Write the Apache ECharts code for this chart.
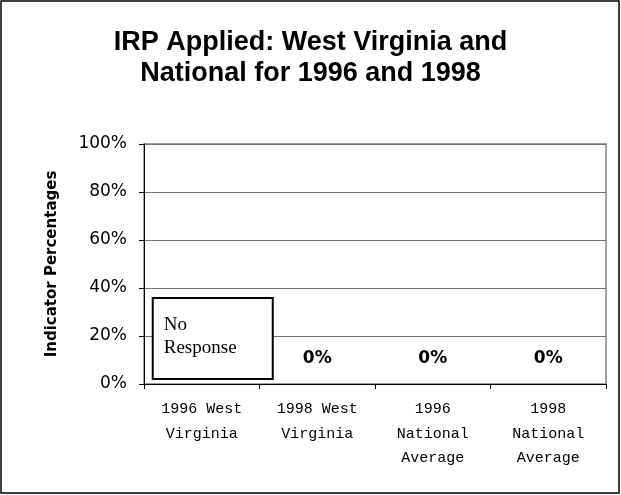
<!DOCTYPE html>
<html>
<head>
<meta charset="utf-8">
<script src="https://cdn.jsdelivr.net/npm/echarts@6/dist/echarts.min.js"></script>
<style>
  html, body { margin: 0; padding: 0; background: #fff; }
  #chart { width: 621px; height: 495px; }
</style>
</head>
<body>
<div id="chart"></div>
<script>
// categories and values
const categories = ['1996 West\nVirginia', '1998 West\nVirginia', '1996\nNational\nAverage', '1998\nNational\nAverage']
const values = [0, 0, 0, 0]
// first category had no response
const noResponse = [true, false, false, false]
const yTicks = [0, 20, 40, 60, 80, 100]

const myChart = echarts.init(document.getElementById('chart'))

const seriesData = values.map((v, i) => {
  if (!noResponse[i]) return v
  return {
    value: v,
    label: {
      show: true,
      position: 'top',
      distance: 6,
      offset: [-48, 0],
      formatter: 'No\nResponse',
      fontFamily: 'Liberation Serif',
      fontWeight: 'normal',
      fontSize: 19,
      lineHeight: 23,
      align: 'left',
      width: 98,
      padding: [15, 10, 18, 10],
      backgroundColor: '#fff',
      borderColor: '#000',
      borderWidth: 2,
      color: '#000'
    }
  }
})

const option = {
  animation: false,
  backgroundColor: '#fff',
  title: {
    text: 'IRP Applied: West Virginia and\nNational for 1996 and 1998',
    left: 'center',
    top: 22,
    textStyle: {
      fontFamily: 'Liberation Sans',
      fontSize: 27,
      fontWeight: 'bold',
      lineHeight: 31,
      color: '#000'
    }
  },
  graphic: [
    {
      type: 'rect',
      shape: { x: 1, y: 1, width: 618, height: 492 },
      style: { fill: 'none', stroke: '#000', lineWidth: 1.5 },
      silent: true
    }
  ],
  grid: {
    left: 144,
    right: 15,
    top: 144,
    bottom: 111,
    show: true,
    borderColor: '#808080',
    borderWidth: 1.5
  },
  xAxis: {
    type: 'category',
    data: categories,
    axisLine: { lineStyle: { color: '#000', width: 1 } },
    axisTick: { show: true, length: 5, lineStyle: { color: '#000' } },
    axisLabel: {
      fontFamily: 'Liberation Mono',
      fontSize: 15,
      lineHeight: 24.5,
      color: '#000',
      margin: 13,
      interval: 0
    }
  },
  yAxis: {
    type: 'value',
    min: 0,
    max: 100,
    interval: 20,
    name: 'Indicator Percentages',
    nameLocation: 'middle',
    nameRotate: 90,
    nameGap: 84,
    nameTextStyle: {
      fontFamily: 'DejaVu Sans',
      fontSize: 15,
      fontWeight: 'bold',
      color: '#000'
    },
    axisLine: { show: true, lineStyle: { color: '#000', width: 1 } },
    axisTick: { show: true, length: 5, lineStyle: { color: '#000' } },
    axisLabel: {
      formatter: v => yTicks.includes(v) ? v + '%' : '',
      fontFamily: 'DejaVu Sans',
      fontSize: 17,
      color: '#000',
      margin: 17
    },
    splitLine: { lineStyle: { color: '#707070', width: 1 } }
  },
  series: [
    {
      type: 'bar',
      data: seriesData,
      barWidth: '50%',
      itemStyle: { color: '#000' },
      label: {
        show: true,
        position: 'top',
        distance: 17,
        formatter: '{c}%',
        fontFamily: 'DejaVu Sans',
        fontSize: 17,
        fontWeight: 'bold',
        color: '#000'
      }
    }
  ]
}

myChart.setOption(option)
</script>
</body>
</html>
